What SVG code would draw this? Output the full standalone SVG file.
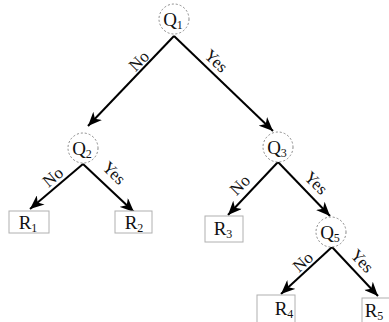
<svg xmlns="http://www.w3.org/2000/svg" width="389" height="322" viewBox="0 0 389 322">
<defs>
<marker id="ah" markerUnits="userSpaceOnUse" markerWidth="15" markerHeight="12" refX="14" refY="6" orient="auto">
<path d="M0,0 L14,6 L0,12 L4,6 z" fill="#000"/>
</marker>
<style>
.q{fill:#fff;stroke:#888;stroke-width:1;stroke-dasharray:2,2}
.r{fill:#fff;stroke:#b0b0b0;stroke-width:1}
.t{font-family:"Liberation Serif",serif;font-size:19px;fill:#111;text-anchor:middle}
.s{font-size:12px}
.l{font-family:"Liberation Serif",serif;font-size:17px;fill:#111;text-anchor:middle;dominant-baseline:central}
.e{stroke:#000;stroke-width:2;fill:none;marker-end:url(#ah)}
</style>
</defs>
<rect width="389" height="322" fill="#fff"/>
<g id="connectors">
<line class="e" x1="174" y1="36" x2="88" y2="126"/>
<line class="e" x1="174" y1="36" x2="273" y2="131"/>
<line class="e" x1="83" y1="164" x2="30" y2="209"/>
<line class="e" x1="83" y1="164" x2="134" y2="212"/>
<line class="e" x1="278" y1="162" x2="228" y2="215"/>
<line class="e" x1="278" y1="162" x2="330" y2="216"/>
<line class="e" x1="332" y1="247" x2="281" y2="294"/>
<line class="e" x1="332" y1="247" x2="378" y2="296"/>
<text class="l" transform="translate(139,61) rotate(-45)">No</text>
<text class="l" transform="translate(216,61) rotate(43)">Yes</text>
<text class="l" transform="translate(53,177) rotate(-40)">No</text>
<text class="l" transform="translate(114,173) rotate(45)">Yes</text>
<text class="l" transform="translate(240,185) rotate(-45)">No</text>
<text class="l" transform="translate(316,183) rotate(45)">Yes</text>
<text class="l" transform="translate(303,262) rotate(-42)">No</text>
<text class="l" transform="translate(362,261) rotate(47)">Yes</text>
</g>
<g id="Q1"><circle class="q" cx="174" cy="19" r="15"/><text class="t" x="173" y="26">Q<tspan class="s" dy="3">1</tspan></text></g>
<g id="Q2"><circle class="q" cx="83" cy="148" r="15"/><text class="t" x="82" y="155">Q<tspan class="s" dy="3">2</tspan></text></g>
<g id="Q3"><circle class="q" cx="278" cy="147" r="15"/><text class="t" x="277" y="154">Q<tspan class="s" dy="3">3</tspan></text></g>
<g id="Q5"><circle class="q" cx="331" cy="232" r="15"/><text class="t" x="330" y="239">Q<tspan class="s" dy="3">5</tspan></text></g>
<g id="R1"><rect class="r" x="9" y="211" width="40" height="22"/><text class="t" x="28" y="229">R<tspan class="s" dy="3">1</tspan></text></g>
<g id="R2"><rect class="r" x="115" y="211" width="37" height="22"/><text class="t" x="134" y="229">R<tspan class="s" dy="3">2</tspan></text></g>
<g id="R3"><rect class="r" x="205" y="216" width="38" height="26"/><text class="t" x="223" y="235">R<tspan class="s" dy="3">3</tspan></text></g>
<g id="R4"><rect class="r" x="257" y="295" width="38" height="30"/><text class="t" x="284" y="315">R<tspan class="s" dy="3">4</tspan></text></g>
<g id="R5"><rect class="r" x="362" y="298" width="38" height="30"/><text class="t" x="374" y="317">R<tspan class="s" dy="3">5</tspan></text></g>
</svg>
